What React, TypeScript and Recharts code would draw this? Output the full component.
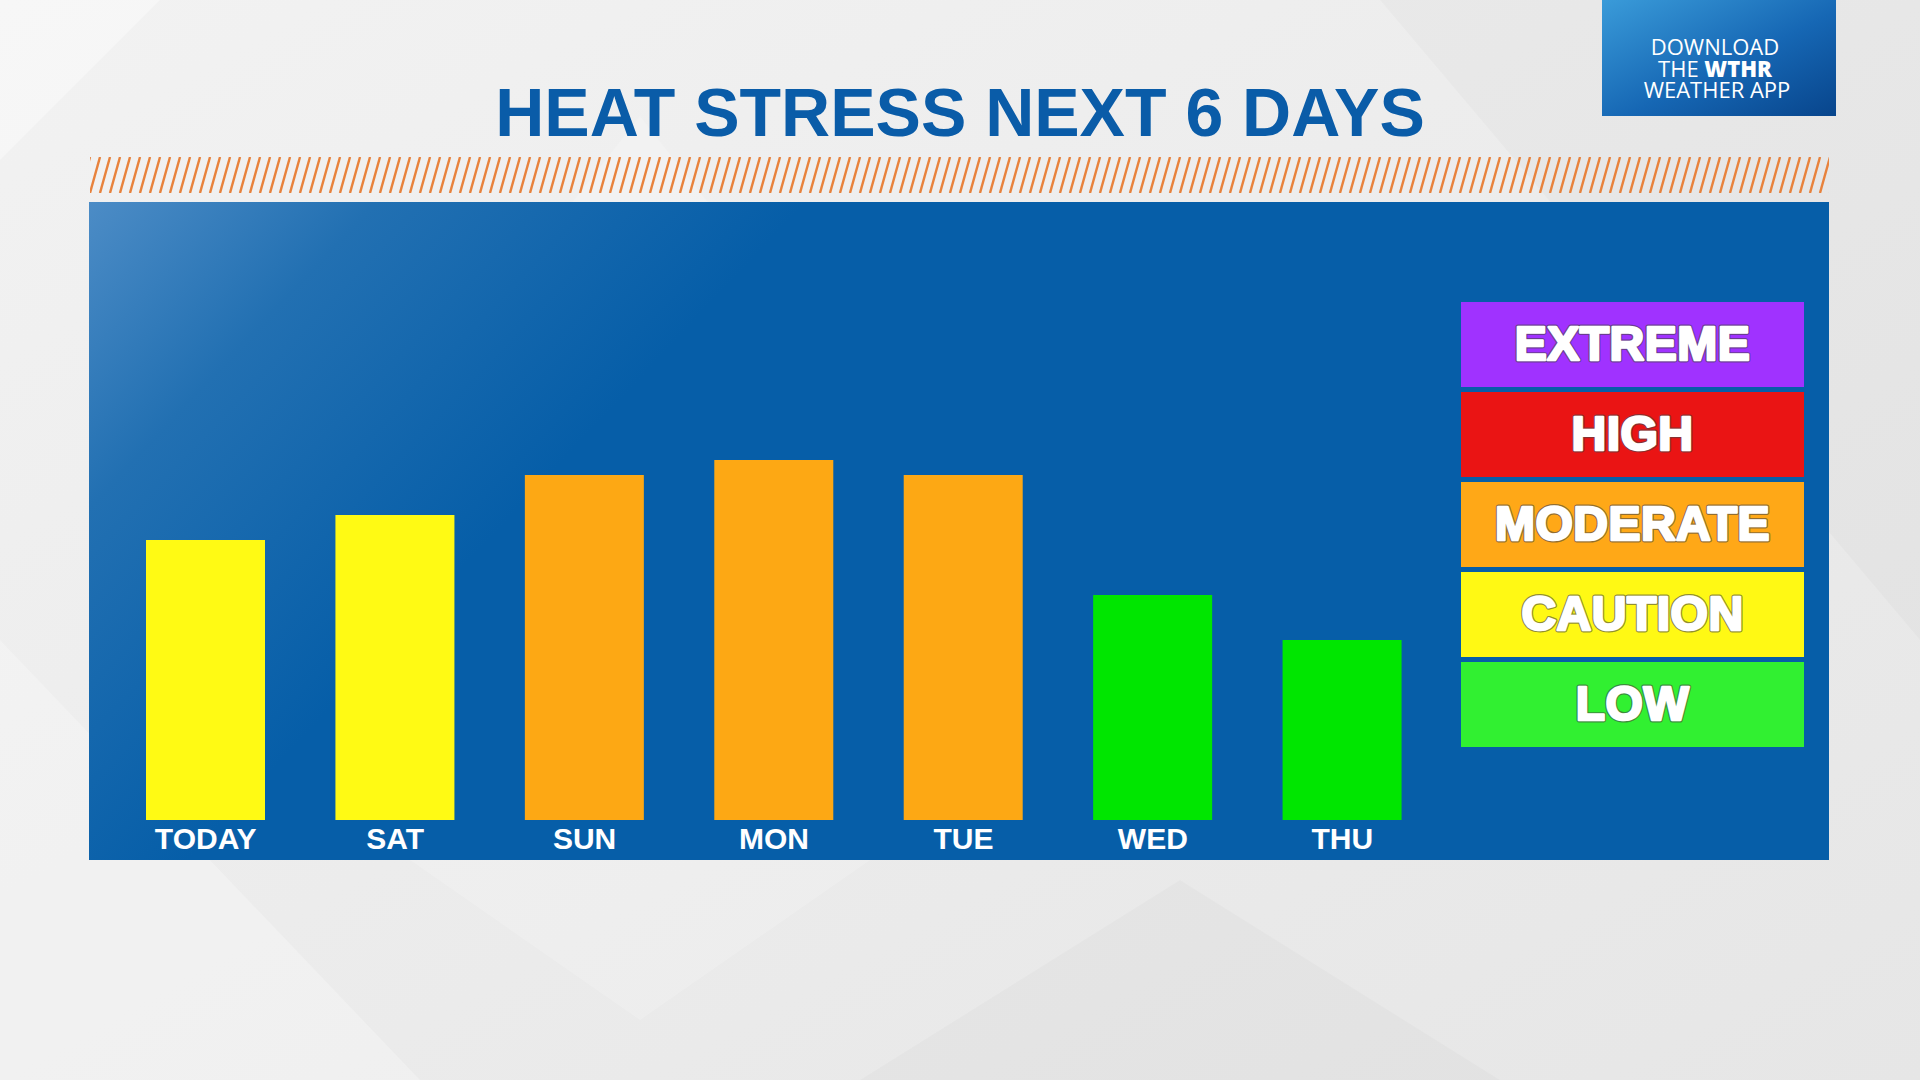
import { BarChart, Bar, XAxis, YAxis, Cell } from 'recharts'

// heat stress per day (arbitrary 0-100 index)
const days = ['TODAY', 'SAT', 'SUN', 'MON', 'TUE', 'WED', 'THU']
const stressValues = [56, 61, 69, 72, 69, 45, 36]
const dayLevels = ['CAUTION', 'CAUTION', 'MODERATE', 'MODERATE', 'MODERATE', 'LOW', 'LOW']

const levelNames = ['EXTREME', 'HIGH', 'MODERATE', 'CAUTION', 'LOW']
const levelColors = ['#A032FF', '#EA1414', '#FFA817', '#FFF914', '#31F031']
const barColors: Record<string, string> = {
  CAUTION: '#FFFA14',
  MODERATE: '#FDA814',
  LOW: '#00E600',
}

const data = days.map((day, i) => ({ day, value: stressValues[i], level: dayLevels[i] }))

const FONT = '"Liberation Sans", Arial, sans-serif'

function Backdrop() {
  return (
    <svg width={1920} height={1080} style={{ position: 'absolute', left: 0, top: 0 }}>
      <defs>
        <linearGradient id="bg" x1="0" y1="0" x2="1" y2="1">
          <stop offset="0%" stopColor="#F2F2F2" />
          <stop offset="100%" stopColor="#E6E6E6" />
        </linearGradient>
        <linearGradient id="panel" gradientUnits="userSpaceOnUse" x1="89" y1="202" x2="470" y2="560">
          <stop offset="0%" stopColor="#4C8CC6" />
          <stop offset="40%" stopColor="#2270B2" />
          <stop offset="100%" stopColor="#065EA8" />
        </linearGradient>
        <linearGradient id="app" x1="0" y1="0" x2="1" y2="1">
          <stop offset="0%" stopColor="#3A9BD9" />
          <stop offset="55%" stopColor="#1667B4" />
          <stop offset="100%" stopColor="#08458C" />
        </linearGradient>
        <pattern id="hatch" patternUnits="userSpaceOnUse" width={10} height={36} x={90} y={157}>
          <line x1={-10} y1={36} x2={0} y2={0} stroke="#E8823C" strokeWidth={2.4} />
          <line x1={0} y1={36} x2={10} y2={0} stroke="#E8823C" strokeWidth={2.4} />
          <line x1={10} y1={36} x2={20} y2={0} stroke="#E8823C" strokeWidth={2.4} />
        </pattern>
      </defs>
      <rect width={1920} height={1080} fill="url(#bg)" />
      {/* faint diamond shapes */}
      <polygon points="0,160 160,0 0,0" fill="#FFFFFF" opacity={0.4} />
      <polygon points="640,116 1100,700 640,1020 180,700" fill="#FFFFFF" opacity={0.18} />
      <polygon points="1380,0 1920,0 1920,640" fill="#000000" opacity={0.02} />
      <polygon points="0,640 420,1080 0,1080" fill="#FFFFFF" opacity={0.25} />
      <polygon points="1180,880 1500,1080 860,1080" fill="#000000" opacity={0.02} />

      <text x={960} y={136} textAnchor="middle" fontFamily={FONT} fontWeight={700} fontSize={68} fill="#0A5CA8">
        HEAT STRESS NEXT 6 DAYS
      </text>

      <rect x={90} y={157} width={1739} height={36} fill="url(#hatch)" />
      <rect x={89} y={202} width={1740} height={658} fill="url(#panel)" />

      <rect x={1602} y={0} width={234} height={116} fill="url(#app)" />
      <g fontFamily='"Open Sans", sans-serif' fontSize={22} fill="#FFFFFF" textAnchor="middle">
        <text x={1715} y={55}>DOWNLOAD</text>
        <text x={1715} y={77}>
          THE <tspan fontWeight={800}>WTHR</tspan>
        </text>
        <text x={1717} y={98}>WEATHER APP</text>
      </g>
    </svg>
  )
}

function LevelKey() {
  return (
    <svg width={1920} height={1080} style={{ position: 'absolute', left: 0, top: 0, pointerEvents: 'none' }}>
      {levelNames.map((name, i) => {
        const top = 302 + i * 90
        const textProps = {
          x: 1632.5,
          y: top + 58,
          textAnchor: 'middle' as const,
          fontFamily: FONT,
          fontWeight: 700,
          fontSize: 48,
          letterSpacing: 0.5,
        }
        return (
          <g key={name}>
            <rect x={1461} y={top} width={343} height={85} fill={levelColors[i]} />
            {/* thin dark outline under a thickened white face */}
            <text {...textProps} fill="none" stroke="rgba(70,70,70,0.6)" strokeWidth={5} strokeLinejoin="round">
              {name}
            </text>
            <text {...textProps} fill="#FFFFFF" stroke="#FFFFFF" strokeWidth={2.6} strokeLinejoin="round">
              {name}
            </text>
          </g>
        )
      })}
    </svg>
  )
}

export default function App() {
  return (
    <div style={{ position: 'absolute', left: 0, top: 0, width: 1920, height: 1080, overflow: 'hidden' }}>
      <Backdrop />
      <div style={{ position: 'absolute', left: 0, top: 0 }}>
        <BarChart width={1920} height={1080} data={data} margin={{ top: 320, right: 483, bottom: 220, left: 111 }}>
          <XAxis
            dataKey="day"
            height={40}
            interval={0}
            tickLine={false}
            axisLine={false}
            tick={{ fill: '#FFFFFF', fontSize: 30, fontWeight: 700, fontFamily: FONT }}
          />
          <YAxis hide domain={[0, 100]} />
          <Bar dataKey="value" barSize={119} isAnimationActive={false}>
            {data.map((d) => (
              <Cell key={d.day} fill={barColors[d.level]} />
            ))}
          </Bar>
        </BarChart>
      </div>
      <LevelKey />
    </div>
  )
}
